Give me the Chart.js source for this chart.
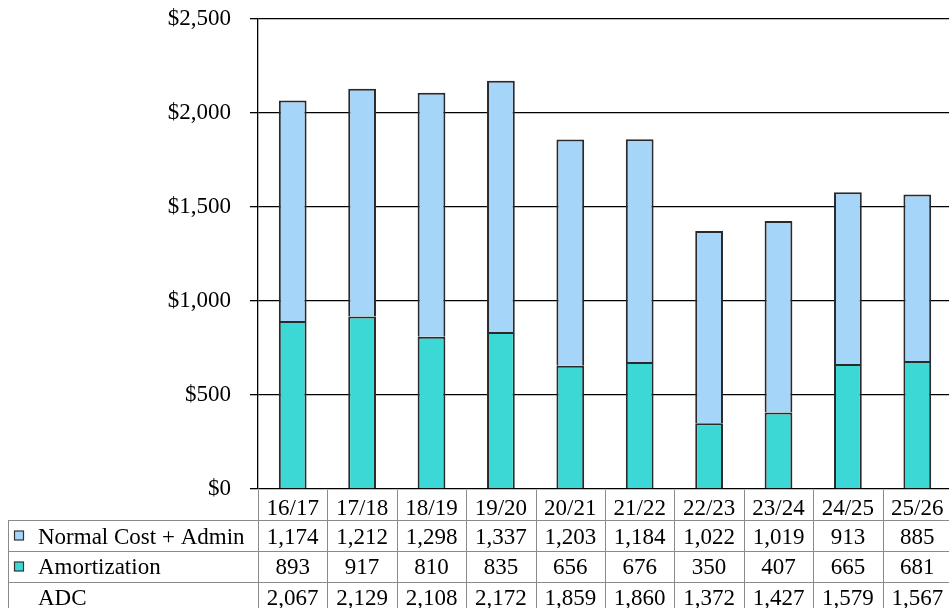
<!DOCTYPE html>
<html>
<head>
<meta charset="utf-8">
<script src="https://cdn.jsdelivr.net/npm/chart.js@4/dist/chart.umd.min.js"></script>
<style>
html,body{margin:0;padding:0;overflow:hidden;background:#fff;}
#wrap{position:relative;width:960px;height:620px;}
</style>
</head>
<body>
<div id="wrap"><canvas id="c" width="960" height="620"></canvas></div>
<script>
const categories = ['16/17','17/18','18/19','19/20','20/21','21/22','22/23','23/24','24/25','25/26'];
const normalCostAdmin = [1174,1212,1298,1337,1203,1184,1022,1019,913,885];
const amortization = [893,917,810,835,656,676,350,407,665,681];
const adc = [2067,2129,2108,2172,1859,1860,1372,1427,1579,1567];
const seriesNames = ['Normal Cost + Admin','Amortization','ADC'];
const yTicks = [0,500,1000,1500,2000,2500];

const FONT = 'Liberation Serif';
const FS = 23;
const W = 960, H = 620;
const PLOT_LEFT = 258, PLOT_TOP = 19, PLOT_BOTTOM = 489, PLOT_RIGHT = 952;
const colBlue = '#A6D5FA', colTeal = '#3CD8D6';
const fmt = v => v.toLocaleString('en-US');

const tablePlugin = {
  id: 'dataTable',
  afterDraw(chart) {
    const ctx = chart.ctx;
    const xs = chart.scales.x;
    const area = chart.chartArea;
    const n = categories.length;
    const bw = (area.right - area.left) / n;
    const rowLines = [area.bottom, 520, 551, 582, 613];
    const tableLeft = 8;
    ctx.save();
    ctx.strokeStyle = '#8a8a8a';
    ctx.lineWidth = 1;
    for (let i = 1; i < rowLines.length; i++) {
      ctx.beginPath();
      ctx.moveTo(tableLeft, rowLines[i] + 0.5);
      ctx.lineTo(W, rowLines[i] + 0.5);
      ctx.stroke();
    }
    ctx.beginPath();
    ctx.moveTo(tableLeft + 0.5, rowLines[1]);
    ctx.lineTo(tableLeft + 0.5, H);
    ctx.stroke();
    for (let i = 0; i <= n; i++) {
      const x = Math.round(area.left + i * bw) + 0.5;
      ctx.beginPath();
      ctx.moveTo(x, area.bottom + 1);
      ctx.lineTo(x, H);
      ctx.stroke();
    }
    ctx.fillStyle = '#000';
    ctx.font = FS + 'px "' + FONT + '"';
    ctx.textBaseline = 'alphabetic';
    ctx.textAlign = 'center';
    const baselines = [515, 544, 574, 605];
    categories.forEach((c, i) => {
      ctx.fillText(c, xs.getPixelForValue(i), baselines[0]);
    });
    const rows = [normalCostAdmin, amortization, adc];
    const swatches = [colBlue, colTeal, null];
    rows.forEach((row, r) => {
      row.forEach((v, i) => {
        ctx.fillText(fmt(v), xs.getPixelForValue(i), baselines[r + 1]);
      });
    });
    ctx.textAlign = 'left';
    seriesNames.forEach((name, r) => {
      ctx.fillText(name, 38, baselines[r + 1]);
      if (swatches[r]) {
        const yc = (rowLines[r + 1] + rowLines[r + 2]) / 2;
        ctx.fillStyle = swatches[r];
        ctx.fillRect(14.5, yc - 4.5, 9, 9);
        ctx.strokeStyle = '#333';
        ctx.lineWidth = 1.2;
        ctx.strokeRect(14.5, yc - 4.5, 9, 9);
        ctx.fillStyle = '#000';
      }
    });
    ctx.restore();
  }
};

new Chart(document.getElementById('c'), {
  type: 'bar',
  data: {
    labels: categories,
    datasets: [
      { label: seriesNames[1], data: amortization, backgroundColor: colTeal, borderColor: '#2a2a2a', borderWidth: 2, barPercentage: 0.4, categoryPercentage: 1.0 },
      { label: seriesNames[0], data: normalCostAdmin, backgroundColor: colBlue, borderColor: '#2a2a2a', borderWidth: 2, barPercentage: 0.4, categoryPercentage: 1.0 }
    ]
  },
  options: {
    responsive: false,
    animation: false,
    devicePixelRatio: 1,
    layout: { padding: { top: PLOT_TOP, bottom: H - PLOT_BOTTOM, left: 0, right: W - PLOT_RIGHT } },
    plugins: { legend: { display: false }, tooltip: { enabled: false } },
    scales: {
      x: { stacked: true, display: false, offset: true },
      y: {
        stacked: true,
        min: 0, max: 2500,
        afterBuildTicks(scale) { scale.ticks = yTicks.map(v => ({ value: v })); },
        afterFit(scale) { scale.width = PLOT_LEFT; scale.paddingTop = 0; scale.paddingBottom = 0; },
        ticks: {
          font: { family: FONT, size: FS },
          color: '#000',
          padding: 19,
          callback: v => '$' + fmt(v)
        },
        grid: { color: '#000', lineWidth: 1.3, tickLength: 8, drawTicks: true },
        border: { display: true, color: '#000', width: 1.3 }
      }
    }
  },
  plugins: [tablePlugin]
});
</script>
</body>
</html>
